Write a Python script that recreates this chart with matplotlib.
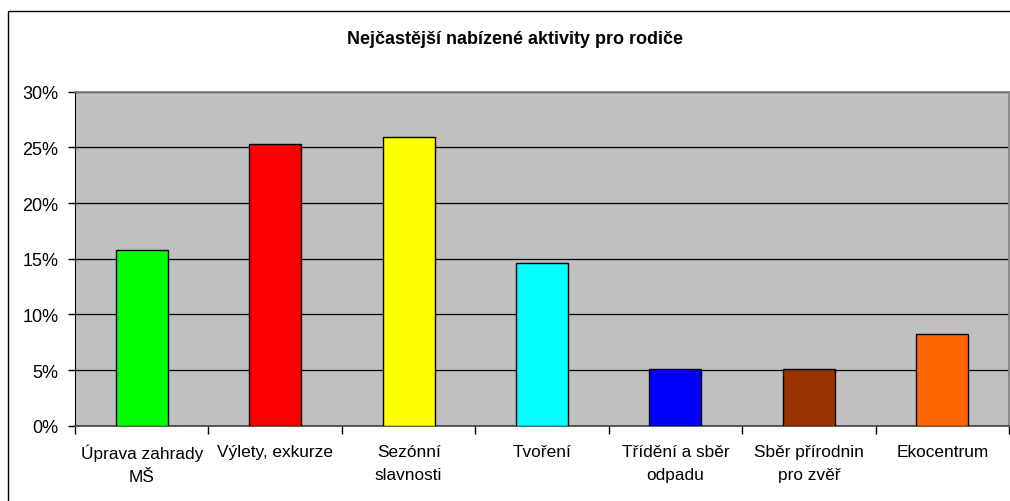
import matplotlib
matplotlib.use("Agg")
import matplotlib.pyplot as plt
from matplotlib.ticker import FixedLocator, PercentFormatter
from matplotlib.patches import Rectangle

categories = ["Úprava zahrady\nMŠ", "Výlety, exkurze", "Sezónní\nslavnosti", "Tvoření",
              "Třídění a sběr\nodpadu", "Sběr přírodnin\npro zvěř", "Ekocentrum"]
values = [15.8, 25.3, 25.9, 14.6, 5.1, 5.1, 8.2]
colors = ["#00FF00", "#FF0000", "#FFFF00", "#00FFFF", "#0000FF", "#993300", "#FF6600"]
yticks = [0, 5, 10, 15, 20, 25, 30]

plt.rcParams['font.family'] = ['Liberation Sans', 'DejaVu Sans']

W, H = 1010, 502
fig = plt.figure(figsize=(W / 100, H / 100), dpi=100)

# outer chart border (cut off on the right/bottom like the reference)
fig.patches.append(Rectangle((8 / W, -0.1), 1.2, (H - 12) / H + 0.1, transform=fig.transFigure,
                             fill=False, edgecolor="black", linewidth=1.0))

ax = fig.add_axes([75 / W, (H - 426.7) / H, 934 / W, 334 / H])
ax.set_facecolor("#C0C0C0")

x = list(range(len(categories)))
ax.bar(x, values, width=0.39, color=colors, edgecolor="black", linewidth=1.0, zorder=3)

ax.set_xlim(-0.5, len(categories) - 0.5)
ax.set_ylim(0, 30)
ax.set_yticks(yticks)
ax.yaxis.set_major_formatter(PercentFormatter(decimals=0))
ax.grid(axis="y", color="black", linewidth=0.9, zorder=1)
ax.set_axisbelow(True)

ax.set_xticks(x)
ax.set_xticklabels(categories, fontsize=12.4, linespacing=1.65, va="top")
ax.xaxis.set_minor_locator(FixedLocator([i - 0.5 for i in range(len(categories) + 1)]))
ax.tick_params(axis="x", which="major", length=0, pad=13)
ax.tick_params(axis="x", which="minor", length=6, width=1, color="black", direction="out")
ax.tick_params(axis="y", length=5, width=1, color="black", labelsize=13, pad=7)

for s in ["top", "right"]:
    ax.spines[s].set_color("#808080")
    ax.spines[s].set_linewidth(1.2)
ax.spines["left"].set_color("black")
ax.spines["bottom"].set_color("#404040")
ax.spines["bottom"].set_linewidth(1.2)

fig.text(515 / W, 1 - 39 / H, "Nejčastější nabízené aktivity pro rodiče", ha="center", va="center",
         fontsize=13, fontweight="bold")

fig.savefig("out.png", dpi=100, facecolor="white")
